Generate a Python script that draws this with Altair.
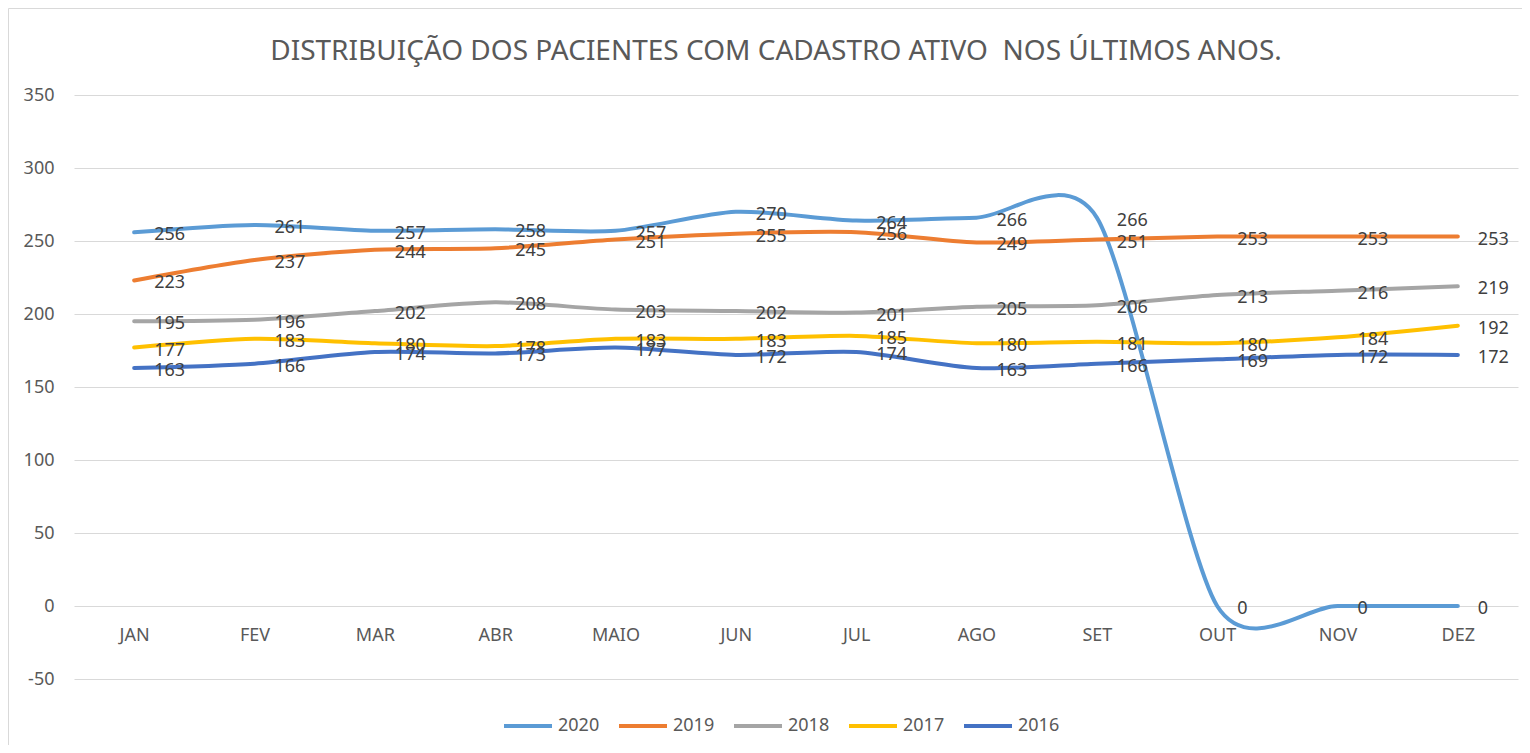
import altair as alt
import pandas as pd

FONT = "Noto Sans"

months = ["JAN", "FEV", "MAR", "ABR", "MAIO", "JUN", "JUL", "AGO", "SET", "OUT", "NOV", "DEZ"]
series_names = ["2020", "2019", "2018", "2017", "2016"]
v2020 = [256, 261, 257, 258, 257, 270, 264, 266, 266, 0, 0, 0]
v2019 = [223, 237, 244, 245, 251, 255, 256, 249, 251, 253, 253, 253]
v2018 = [195, 196, 202, 208, 203, 202, 201, 205, 206, 213, 216, 219]
v2017 = [177, 183, 180, 178, 183, 183, 185, 180, 181, 180, 184, 192]
v2016 = [163, 166, 174, 173, 177, 172, 174, 163, 166, 169, 172, 172]
series_colors = ["#5B9BD5", "#ED7D31", "#A5A5A5", "#FFC000", "#4472C4"]
y_ticks = [-50, 0, 50, 100, 150, 200, 250, 300, 350]
title_text = "DISTRIBUIÇÃO DOS PACIENTES COM CADASTRO ATIVO \u00a0NOS ÚLTIMOS ANOS."

values = {"2020": v2020, "2019": v2019, "2018": v2018, "2017": v2017, "2016": v2016}
rows = []
for s in series_names:
    for m, v in zip(months, values[s]):
        rows.append({"serie": s, "mes": m, "valor": v})
df = pd.DataFrame(rows)

x_enc = alt.X(
    "mes:O",
    sort=months,
    scale=alt.Scale(type="point", padding=0.5),
    axis=alt.Axis(
        title=None, labelAngle=0, domain=False, ticks=False, grid=False,
        offset=-73, labelPadding=20, labelFontSize=18, labelColor="#595959",
        labelFont=FONT,
    ),
)
y_enc = alt.Y(
    "valor:Q",
    scale=alt.Scale(domain=[-50, 350], nice=False, zero=False),
    axis=alt.Axis(
        title=None, values=y_ticks, domain=False, ticks=False, grid=True,
        gridColor="#D9D9D9", gridWidth=1, labelPadding=20, labelFontSize=18,
        labelColor="#595959", labelFont=FONT, labelExpr="datum.value + ''",
    ),
)
color_enc = alt.Color(
    "serie:N",
    scale=alt.Scale(domain=series_names, range=series_colors),
    sort=series_names,
    legend=alt.Legend(
        title=None, orient="none", legendX=428, legendY=605,
        direction="horizontal", symbolType="stroke", symbolSize=2304,
        symbolStrokeWidth=4, labelFontSize=18, labelColor="#595959",
        labelFont=FONT, labelOffset=4, columnPadding=11, padding=0,
    ),
)

border = alt.Chart(pd.DataFrame({"k": [0]})).mark_rect(
    fill="white", fillOpacity=0, stroke="#D9D9D9", strokeWidth=1
).encode(
    x=alt.value(-65.5), x2=alt.value(1500), y=alt.value(-86.5), y2=alt.value(700)
)

layers = [border]
base = alt.Chart(df)
for s in series_names:
    sub = base.transform_filter(alt.datum.serie == s)
    line = sub.mark_line(
        interpolate="cardinal", tension=0.22, strokeWidth=4, strokeCap="round"
    ).encode(x=x_enc, y=y_enc, color=color_enc)
    txt = sub.mark_text(
        align="left", baseline="middle", dx=20, dy=3, fontSize=18,
        color="#404040", font=FONT
    ).encode(x=x_enc, y=y_enc, text="valor:Q")
    layers += [line, txt]

chart = alt.layer(*layers).properties(
    width=1444,
    height=584,
    title=alt.Title(
        text=title_text, anchor="middle", frame="group", dx=-20, offset=-79.5,
        fontSize=28, font=FONT, color="#595959", fontWeight="normal",
        baseline="alphabetic",
    ),
    autosize=alt.AutoSizeParams(type="none"),
    padding={"left": 66, "top": 87, "right": 4, "bottom": 66},
).configure_view(stroke=None)

chart.save("out.html", embed_options={"renderer": "svg", "actions": False})
